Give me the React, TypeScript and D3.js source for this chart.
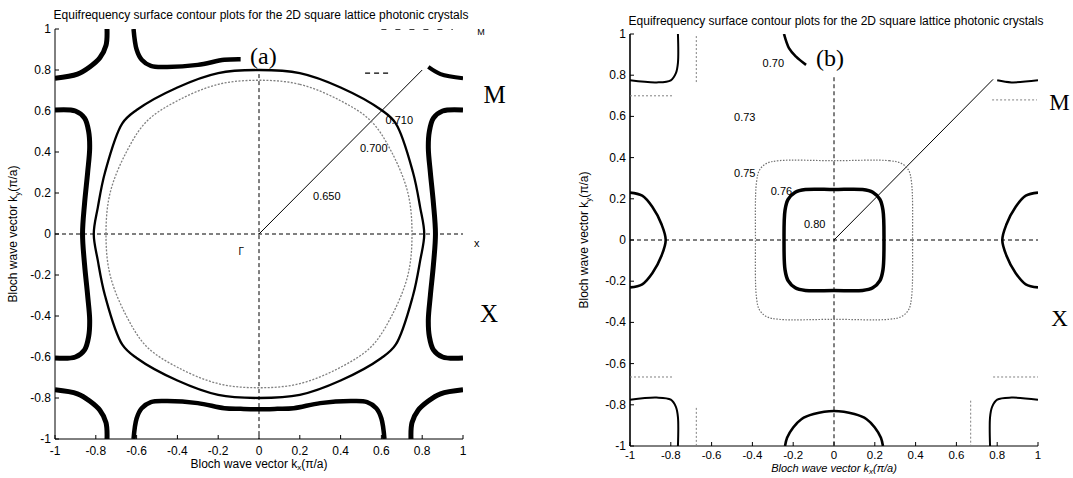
import React, { useRef, useEffect } from 'react';
import * as d3 from 'd3';

type Pt = [number, number];

// axis ticks (both axes, both panels)
const tickValues = [-1, -0.8, -0.6, -0.4, -0.2, 0, 0.2, 0.4, 0.6, 0.8, 1];
const tickLabels = ['-1', '-0.8', '-0.6', '-0.4', '-0.2', '0', '0.2', '0.4', '0.6', '0.8', '1'];
const titleText = 'Equifrequency surface contour plots for the 2D square lattice photonic crystals';

// ---- panel (a), first quadrant samples [kx, ky] ----
const a650Quarter: Pt[] = [[0, 0.75], [0.2, 0.73], [0.4, 0.65], [0.55, 0.55], [0.65, 0.4], [0.73, 0.2], [0.75, 0]];
const a700Quarter: Pt[] = [[0, 0.8], [0.2, 0.785], [0.4, 0.715], [0.6, 0.605], [0.67, 0.54], [0.755, 0.3], [0.79, 0.13], [0.81, 0]];
// contour round X point (1,0), upper half
const a710XBranch: Pt[] = [[0.865, 0], [0.855, 0.15], [0.84, 0.3], [0.83, 0.42], [0.835, 0.5], [0.855, 0.565], [0.9, 0.6], [1, 0.605]];
// contour round (0,1), right half
const a710YBranch: Pt[] = [[0, 0.855], [0.09, 0.853], [0.17, 0.85], [0.3, 0.825], [0.45, 0.815], [0.53, 0.82], [0.575, 0.85], [0.6, 0.9], [0.615, 1]];
// contour round M point (1,1)
const aCorner: Pt[] = [[0.745, 1], [0.75, 0.92], [0.78, 0.86], [0.83, 0.815], [0.89, 0.78], [1, 0.76]];
const aFragments: Pt[][] = [
  [[0.52, 0.785], [0.65, 0.785]],
  [[0.6, 1], [0.95, 1]],
];
const aLabels = [
  { text: '0.650', k: [0.265, 0.166] },
  { text: '0.700', k: [0.495, 0.4] },
  { text: '0.710', k: [0.62, 0.537] },
];

// ---- panel (b) ----
const b750Quarter: Pt[] = [[0, 0.385], [0.27, 0.385], [0.33, 0.372], [0.365, 0.34], [0.38, 0.28], [0.385, 0]];
const b760Quarter: Pt[] = [[0, 0.245], [0.14, 0.245], [0.19, 0.232], [0.225, 0.197], [0.24, 0.145], [0.245, 0]];
const bXBranch: Pt[] = [[0.825, 0], [0.845, 0.075], [0.89, 0.16], [0.94, 0.215], [1, 0.23]];
const bBottomHalf: Pt[] = [[0, -0.83], [0.1, -0.845], [0.16, -0.87], [0.2, -0.91], [0.23, -0.96], [0.24, -1]];
const bCorner: Pt[] = [[0.765, 1], [0.765, 0.86], [0.775, 0.81], [0.8, 0.775], [0.87, 0.765], [1, 0.775]];
const b700Piece: Pt[] = [[-0.245, 1], [-0.22, 0.93], [-0.186, 0.89], [-0.137, 0.85]];
const bFragments: Pt[][] = [
  [[-1, 0.7], [-0.785, 0.7]],
  [[0.775, 0.68], [0.995, 0.68]],
  [[-1, -0.665], [-0.79, -0.665]],
  [[0.78, -0.665], [1, -0.665]],
  [[-0.675, 0.99], [-0.675, 0.76]],
  [[-0.675, -0.815], [-0.675, -1]],
  [[0.67, -0.78], [0.67, -1]],
];
const bLabels = [
  { text: '0.70', k: [-0.35, 0.84] },
  { text: '0.73', k: [-0.49, 0.578] },
  { text: '0.75', k: [-0.49, 0.306] },
  { text: '0.76', k: [-0.31, 0.218] },
  { text: '0.80', k: [-0.147, 0.058] },
];

const SANS = '"Liberation Sans", Arial, Helvetica, sans-serif';
const SERIF = '"Liberation Serif", "Times New Roman", serif';

// four-fold copy of a first-quadrant sample, going round once
const loop = (q: Pt[]): Pt[] => {
  const q4 = q.slice().reverse().map(([x, y]) => [x, -y] as Pt);
  const q3 = q.map(([x, y]) => [-x, -y] as Pt);
  const q2 = q.slice().reverse().map(([x, y]) => [-x, y] as Pt);
  return [...q, ...q4.slice(1), ...q3.slice(1), ...q2.slice(1, -1)];
};
// branch + its mirror over the kx (or ky) axis
const mirrorY = (b: Pt[]): Pt[] => [...b.slice().reverse().map(([x, y]) => [x, -y] as Pt), ...b.slice(1)];
const mirrorX = (b: Pt[]): Pt[] => [...b.slice().reverse().map(([x, y]) => [-x, y] as Pt), ...b.slice(1)];
const flipX = (b: Pt[]): Pt[] => b.map(([x, y]) => [-x, y] as Pt);
const flipY = (b: Pt[]): Pt[] => b.map(([x, y]) => [x, -y] as Pt);

function drawPanel(svg: any, o: any) {
  const x = d3.scaleLinear().domain([-1, 1]).range(o.xr);
  const y = d3.scaleLinear().domain([-1, 1]).range(o.yr);
  const g = svg.append('g');

  const open = d3.line<Pt>().x(d => x(d[0])).y(d => y(d[1])).curve(d3.curveCatmullRom.alpha(0.5));
  const closed = d3.line<Pt>().x(d => x(d[0])).y(d => y(d[1])).curve(d3.curveCatmullRomClosed.alpha(0.5));

  g.append('clipPath').attr('id', o.id + '-clip')
    .append('rect')
    .attr('x', x(-1)).attr('y', y(1))
    .attr('width', x(1) - x(-1)).attr('height', y(-1) - y(1));

  // title
  g.append('text')
    .attr('x', (x(-1) + x(1)) / 2 + 2).attr('y', o.titleY)
    .attr('text-anchor', 'middle')
    .style('font-family', SANS).style('font-size', '12px')
    .text(titleText);

  // axes, box off
  g.append('line').attr('x1', x(-1)).attr('x2', x(-1)).attr('y1', y(-1)).attr('y2', y(1))
    .attr('stroke', 'black').attr('stroke-width', o.axisW);
  g.append('line').attr('x1', x(-1)).attr('x2', x(1)).attr('y1', y(-1)).attr('y2', y(-1))
    .attr('stroke', 'black').attr('stroke-width', 1);

  tickValues.forEach((t, i) => {
    g.append('line').attr('x1', x(-1)).attr('x2', x(-1) + 4).attr('y1', y(t)).attr('y2', y(t))
      .attr('stroke', 'black');
    g.append('line').attr('x1', x(t)).attr('x2', x(t)).attr('y1', y(-1)).attr('y2', y(-1) - 4)
      .attr('stroke', 'black');
    g.append('text')
      .attr('x', x(-1) - 4).attr('y', y(t) + 4)
      .attr('text-anchor', 'end')
      .style('font-family', SANS).style('font-size', '12px')
      .text(tickLabels[i]);
    g.append('text')
      .attr('x', x(t)).attr('y', y(-1) + o.xTickDy)
      .attr('text-anchor', 'middle')
      .style('font-family', SANS).style('font-size', o.xTickSize)
      .text(tickLabels[i]);
  });

  // axis titles
  const xl = g.append('text')
    .attr('x', (x(-1) + x(1)) / 2).attr('y', o.xLabelY)
    .attr('text-anchor', 'middle')
    .style('font-family', SANS).style('font-size', o.xLabelSize)
    .style('font-style', o.italic ? 'italic' : 'normal');
  xl.append('tspan').text('Bloch wave vector k');
  xl.append('tspan').attr('dy', 2).style('font-size', '8px').text('x');
  xl.append('tspan').attr('dy', -2).text('(π/a)');

  const yl = g.append('text')
    .attr('transform', `translate(${o.yLabelX},${(y(-1) + y(1)) / 2}) rotate(-90)`)
    .attr('text-anchor', 'middle')
    .style('font-family', SANS).style('font-size', '12px');
  yl.append('tspan').text('Bloch wave vector k');
  yl.append('tspan').attr('dy', 3).style('font-size', '8px').text('y');
  yl.append('tspan').attr('dy', -3).text('(π/a)');

  // dashed symmetry lines and the Γ-M direction
  g.append('line').attr('x1', x(-1)).attr('x2', x(1)).attr('y1', y(0)).attr('y2', y(0))
    .attr('stroke', 'black').attr('stroke-dasharray', '4 3');
  g.append('line').attr('x1', x(0)).attr('x2', x(0)).attr('y1', y(o.vTop)).attr('y2', y(-1))
    .attr('stroke', 'black').attr('stroke-dasharray', '4 3');
  g.append('line').attr('x1', x(0)).attr('y1', y(0)).attr('x2', x(o.diag)).attr('y2', y(o.diag))
    .attr('stroke', 'black').attr('stroke-width', 1);

  const plot = g.append('g').attr('clip-path', `url(#${o.id}-clip)`);
  o.curves.forEach((c: any) => {
    plot.append('path')
      .attr('d', c.closed ? closed(c.pts) : open(c.pts))
      .attr('fill', 'none')
      .attr('stroke', c.color || 'black')
      .attr('stroke-width', c.w)
      .attr('stroke-linejoin', 'round')
      .attr('stroke-dasharray', c.dash || null);
  });

  o.labels.forEach((l: any) => {
    g.append('text')
      .attr('x', x(l.k[0])).attr('y', y(l.k[1]))
      .style('font-family', l.serif ? SERIF : SANS)
      .style('font-size', l.size || '11px')
      .text(l.text);
  });
}

const App = () => {
  const svgRef = useRef<SVGSVGElement>(null);

  useEffect(() => {
    const svg = d3.select(svgRef.current);
    svg.selectAll('*').remove();

    const aTop = mirrorX(a710YBranch).filter(d => d[0] <= -0.09);
    drawPanel(svg, {
      id: 'pa', xr: [55, 463], yr: [439, 29], axisW: 1,
      titleY: 19, xTickDy: 16, xTickSize: '12px', xLabelY: 468, xLabelSize: '12px',
      yLabelX: 17, italic: false,
      vTop: 0.78, diag: 0.8,
      curves: [
        { pts: loop(a650Quarter), closed: true, w: 1.3, color: '#808080', dash: '2 1.5' },
        { pts: loop(a700Quarter), closed: true, w: 2.3 },
        { pts: mirrorY(a710XBranch), w: 5 },
        { pts: flipX(mirrorY(a710XBranch)), w: 5 },
        { pts: flipY(mirrorX(a710YBranch)), w: 4.5 },
        { pts: aTop, w: 4.5 },
        { pts: flipX(aCorner), w: 5 },
        { pts: flipX(flipY(aCorner)), w: 5 },
        { pts: flipY(aCorner), w: 5 },
        { pts: aCorner.filter(d => d[0] >= 0.8), w: 4 },
        { pts: aFragments[0], w: 1.2, dash: '5 4' },
        { pts: aFragments[1], w: 1.5, dash: '5 9' },
      ],
      labels: [
        ...aLabels,
        { text: '(a)', k: [-0.044, 0.83], serif: true, size: '24px' },
        { text: 'Γ', k: [-0.1, -0.1], size: '10px' },
        { text: 'x', k: [1.054, -0.063], size: '11px' },
        { text: 'M', k: [1.1, 0.64], serif: true, size: '25px' },
        { text: 'X', k: [1.083, -0.43], serif: true, size: '25px' },
        { text: 'M', k: [1.07, 0.97], size: '9px' },
      ],
    });

    drawPanel(svg, {
      id: 'pb', xr: [630, 1038], yr: [446, 34], axisW: 1.6,
      titleY: 25, xTickDy: 13, xTickSize: '11.5px', xLabelY: 472, xLabelSize: '11px',
      yLabelX: 588, italic: true,
      vTop: 0.79, diag: 0.78,
      curves: [
        { pts: loop(b750Quarter), closed: true, w: 1.2, color: '#707070', dash: '1.5 1.5' },
        { pts: loop(b760Quarter), closed: true, w: 3.5 },
        { pts: mirrorY(bXBranch), w: 2.6 },
        { pts: flipX(mirrorY(bXBranch)), w: 2.6 },
        { pts: mirrorX(bBottomHalf), w: 2.6 },
        { pts: flipX(bCorner), w: 2 },
        { pts: flipX(flipY(bCorner)), w: 2 },
        { pts: flipY(bCorner), w: 2 },
        { pts: bCorner.filter(d => d[0] >= 0.78), w: 2 },
        { pts: b700Piece, w: 2.6 },
        ...bFragments.map(f => ({ pts: f, w: 1, color: '#808080', dash: '2 2' })),
      ],
      labels: [
        ...bLabels,
        { text: '(b)', k: [-0.088, 0.845], serif: true, size: '24px' },
        { text: 'M', k: [1.055, 0.63], serif: true, size: '23px' },
        { text: 'X', k: [1.065, -0.417], serif: true, size: '23px' },
      ],
    });
  }, []);

  return (
    <div style={{ position: 'absolute', left: 0, top: 0, background: 'white' }}>
      <svg ref={svgRef} width={1073} height={478}></svg>
    </div>
  );
};

export default App;
